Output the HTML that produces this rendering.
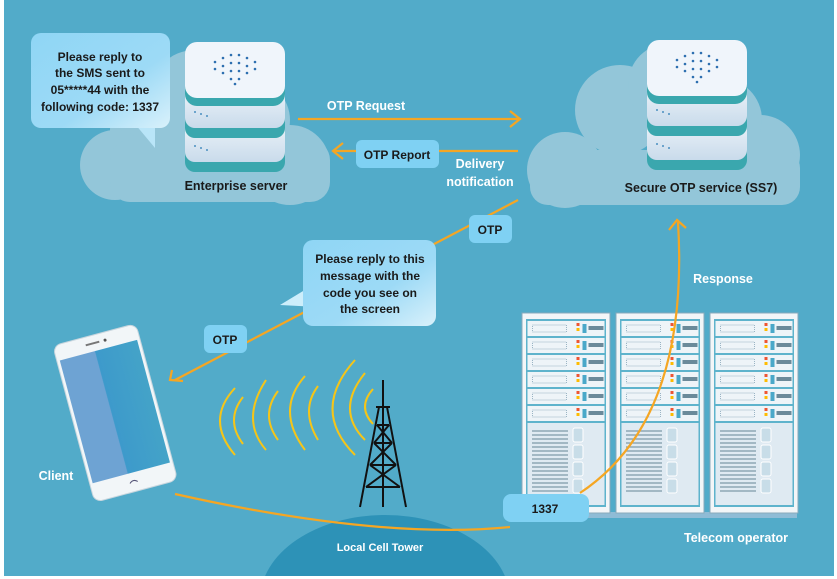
<!DOCTYPE html>
<html><head><meta charset="utf-8"><style>
html,body{margin:0;padding:0;background:#fff;overflow:hidden;width:837px;height:579px}
svg{display:block}
text{font-family:"Liberation Sans",sans-serif;font-weight:bold}
</style></head><body>
<svg width="837" height="579" viewBox="0 0 837 579" xmlns="http://www.w3.org/2000/svg">
<defs>
<clipPath id="frame"><rect x="4" y="0" width="830" height="576"/></clipPath>
<linearGradient id="bub" x1="0" y1="0" x2="1" y2="1"><stop offset="0" stop-color="#8fd6f5"/><stop offset="0.6" stop-color="#9ddaf6"/><stop offset="1" stop-color="#d9f1fb"/></linearGradient>
<linearGradient id="slab" x1="0" y1="0" x2="0" y2="1"><stop offset="0" stop-color="#f4f8fc"/><stop offset="1" stop-color="#c9dbeb"/></linearGradient>
<linearGradient id="scr" x1="0" y1="0" x2="1" y2="0"><stop offset="0" stop-color="#6ea3d3"/><stop offset="0.45" stop-color="#6ea3d3"/><stop offset="0.46" stop-color="#3d9acb"/><stop offset="1" stop-color="#44a3c8"/></linearGradient>
<g id="server">
  <rect x="0" y="78" width="100" height="52" rx="10" fill="#3aa7ae"/>
  <rect x="0" y="72" width="100" height="48" rx="10" fill="url(#slab)"/>
  <rect x="0" y="44" width="100" height="52" rx="10" fill="#3aa7ae"/>
  <rect x="0" y="38" width="100" height="48" rx="10" fill="url(#slab)"/>
  <rect x="0" y="8" width="100" height="56" rx="12" fill="#3aa7ae"/>
  <rect x="0" y="0" width="100" height="56" rx="12" fill="#f0f5fb"/>
  <g fill="#2d6fb0">
    <circle cx="30" cy="20" r="1.3"/><circle cx="38" cy="16" r="1.3"/><circle cx="46" cy="13" r="1.3"/><circle cx="54" cy="13" r="1.3"/><circle cx="62" cy="16" r="1.3"/><circle cx="70" cy="20" r="1.3"/>
    <circle cx="30" cy="27" r="1.3"/><circle cx="38" cy="24" r="1.3"/><circle cx="46" cy="21" r="1.3"/><circle cx="54" cy="21" r="1.3"/><circle cx="62" cy="24" r="1.3"/><circle cx="70" cy="27" r="1.3"/>
    <circle cx="38" cy="31" r="1.3"/><circle cx="46" cy="29" r="1.3"/><circle cx="54" cy="29" r="1.3"/><circle cx="62" cy="31" r="1.3"/>
    <circle cx="46" cy="37" r="1.3"/><circle cx="54" cy="37" r="1.3"/><circle cx="50" cy="42" r="1.3"/>
  </g>
  <g fill="#4a8fc0"><circle cx="10" cy="70" r="1"/><circle cx="16" cy="72" r="1"/><circle cx="22" cy="74" r="1"/><circle cx="10" cy="104" r="1"/><circle cx="16" cy="106" r="1"/><circle cx="22" cy="108" r="1"/></g>
</g>
<g id="unit">
  <rect x="0" y="0" width="77" height="15" fill="#eef4f8"/>
  <rect x="5" y="4" width="34" height="7" fill="none" stroke="#9ab4c4" stroke-dasharray="1 1"/>
  <rect x="49" y="2" width="3" height="3" fill="#e53"/><rect x="49" y="7" width="3" height="3" fill="#fb0"/>
  <rect x="55" y="3" width="4" height="9" fill="#4aa8c9"/>
  <rect x="61" y="5" width="15" height="4" fill="#6b8a9a"/>
</g>
<g id="rack">
  <rect x="0" y="0" width="88" height="200" fill="#f3f6f8" stroke="#8ab" stroke-width="1"/>
  <rect x="4" y="6" width="80" height="188" fill="#5eb3cc"/>
  <use href="#unit" x="5.5" y="8"/><use href="#unit" x="5.5" y="25"/><use href="#unit" x="5.5" y="42"/>
  <use href="#unit" x="5.5" y="59"/><use href="#unit" x="5.5" y="76"/><use href="#unit" x="5.5" y="93"/>
  <rect x="5.5" y="110" width="77" height="82" fill="#dfeaf2"/>
  <g stroke="#7e9aa9" stroke-width="1.2">
    <line x1="10" y1="118" x2="46" y2="118"/><line x1="10" y1="122" x2="46" y2="122"/><line x1="10" y1="126" x2="46" y2="126"/><line x1="10" y1="130" x2="46" y2="130"/><line x1="10" y1="134" x2="46" y2="134"/><line x1="10" y1="138" x2="46" y2="138"/><line x1="10" y1="142" x2="46" y2="142"/><line x1="10" y1="146" x2="46" y2="146"/><line x1="10" y1="150" x2="46" y2="150"/><line x1="10" y1="154" x2="46" y2="154"/><line x1="10" y1="158" x2="46" y2="158"/><line x1="10" y1="162" x2="46" y2="162"/><line x1="10" y1="166" x2="46" y2="166"/><line x1="10" y1="170" x2="46" y2="170"/><line x1="10" y1="174" x2="46" y2="174"/><line x1="10" y1="178" x2="46" y2="178"/>
  </g>
  <g fill="#c8dde8" stroke="#fff"><rect x="51" y="115" width="10" height="14" rx="2"/><rect x="51" y="132" width="10" height="14" rx="2"/><rect x="51" y="149" width="10" height="14" rx="2"/><rect x="51" y="166" width="10" height="14" rx="2"/></g>
</g>
</defs>
<rect x="0" y="0" width="837" height="579" fill="#fff"/>
<rect x="4" y="0" width="830" height="576" fill="#52abc9"/>

<g fill="#9fcbdc" opacity="0.85">
  <circle cx="195" cy="95" r="45"/><circle cx="150" cy="130" r="40"/><circle cx="115" cy="165" r="35"/><circle cx="290" cy="165" r="40"/><circle cx="250" cy="120" r="40"/>
  <rect x="110" y="140" width="220" height="62" rx="20"/>
</g>
<g fill="#9fcbdc" opacity="0.85">
  <circle cx="620" cy="110" r="45"/><circle cx="670" cy="85" r="42"/><circle cx="760" cy="155" r="40"/><circle cx="565" cy="170" r="38"/><circle cx="720" cy="120" r="42"/>
  <rect x="530" y="150" width="270" height="55" rx="18"/>
</g>

<g clip-path="url(#frame)"><ellipse cx="385" cy="600" rx="125" ry="85" fill="#2d92b7"/></g>

<use href="#server" x="185" y="42"/>
<use href="#server" x="647" y="40"/>

<rect x="527" y="512" width="270" height="6" fill="#8fbcd6"/>
<use href="#rack" x="522" y="313"/>
<use href="#rack" x="616" y="313"/>
<use href="#rack" x="710" y="313"/>

<g fill="none" stroke="#f5c518" stroke-width="2">
  <path d="M235,388 Q205,420 235,455"/><path d="M243,397 Q225,420 243,444"/>
  <path d="M266,380 Q240,420 266,450"/><path d="M278,391 Q260,415 278,440"/>
  <path d="M305,376 Q275,410 305,450"/><path d="M318,386 Q300,410 318,440"/>
  <path d="M355,360 Q310,410 355,455"/><path d="M365,373 Q335,410 365,440"/><path d="M373,389 Q357,407 373,424"/>
</g>
<g stroke="#111" stroke-width="2" fill="none">
  <line x1="383" y1="380" x2="383" y2="507"/>
  <line x1="376" y1="407" x2="390" y2="407"/>
  <path d="M379,407 L360,507 M387,407 L406,507"/>
  <path d="M377,425 L389,425 M374,443 L392,443 M370,465 L396,465 M366,487 L400,487"/>
  <path d="M377,425 L392,443 M389,425 L374,443 M374,443 L396,465 M392,443 L370,465 M370,465 L400,487 M396,465 L366,487"/>
</g>

<g transform="rotate(-15 115 412)">
  <rect x="72" y="332" width="86" height="162" rx="8" fill="#f2f6f8" stroke="#c8d6de"/>
  <rect x="75" y="348" width="80" height="127" fill="url(#scr)"/>
  <rect x="104" y="339" width="14" height="2" fill="#777"/>
  <circle cx="124" cy="340" r="1.5" fill="#555"/>
  <path d="M111,485 q4,-4 8,0" stroke="#557" fill="none"/>
</g>

<g stroke="#f5a623" stroke-width="2.2" fill="none">
  <line x1="298" y1="119" x2="520" y2="119"/><path d="M510,111 L520,119 L510,127"/>
  <line x1="333" y1="151" x2="518" y2="151"/><path d="M343,143 L333,151 L343,159"/>
  <line x1="518" y1="200" x2="175" y2="380"/><path d="M172,370 L170,380 L183,381"/>
  <path d="M175,494 Q380,540 510,527"/>
  <path d="M580,493 Q690,420 678,222"/><path d="M669,230 L677,220 L686,228"/>
</g>

<path d="M130,118 L155,148 L155,118 Z" fill="#b9e5f8"/>
<rect x="31" y="33" width="139" height="95" rx="10" fill="url(#bub)"/>
<path d="M313,285 L280,305 L318,307 Z" fill="#cdeefb"/>
<rect x="303" y="240" width="133" height="86" rx="10" fill="url(#bub)"/>

<rect x="356" y="140" width="83" height="28" rx="6" fill="#7fd1f3"/>
<rect x="469" y="215" width="43" height="28" rx="6" fill="#7fd1f3"/>
<rect x="204" y="325" width="43" height="28" rx="6" fill="#7fd1f3"/>
<rect x="503" y="494" width="86" height="28" rx="8" fill="#7fd1f3"/>

<g font-size="12" fill="#1a1a1a" text-anchor="middle">
  <text x="100" y="61">Please reply to</text>
  <text x="100" y="77">the SMS sent to</text>
  <text x="100" y="94">05*****44 with the</text>
  <text x="100" y="111">following code: 1337</text>
  <text x="370" y="263">Please reply to this</text>
  <text x="370" y="280">message with the</text>
  <text x="370" y="297">code you see on</text>
  <text x="370" y="313">the screen</text>
  <text x="397" y="159">OTP Report</text>
  <text x="490" y="234">OTP</text>
  <text x="225" y="344">OTP</text>
  <text x="545" y="513">1337</text>
  <text x="236" y="190" font-size="12.5">Enterprise server</text>
  <text x="701" y="192" font-size="12.5">Secure OTP service (SS7)</text>
</g>
<g font-size="12.5" fill="#fff" text-anchor="middle" font-weight="normal">
  <text x="366" y="110">OTP Request</text>
  <text x="480" y="168">Delivery</text>
  <text x="480" y="186">notification</text>
  <text x="723" y="283">Response</text>
  <text x="56" y="480">Client</text>
  <text x="380" y="551" font-size="11">Local Cell Tower</text>
  <text x="736" y="542">Telecom operator</text>
</g>
</svg>
</body></html>
